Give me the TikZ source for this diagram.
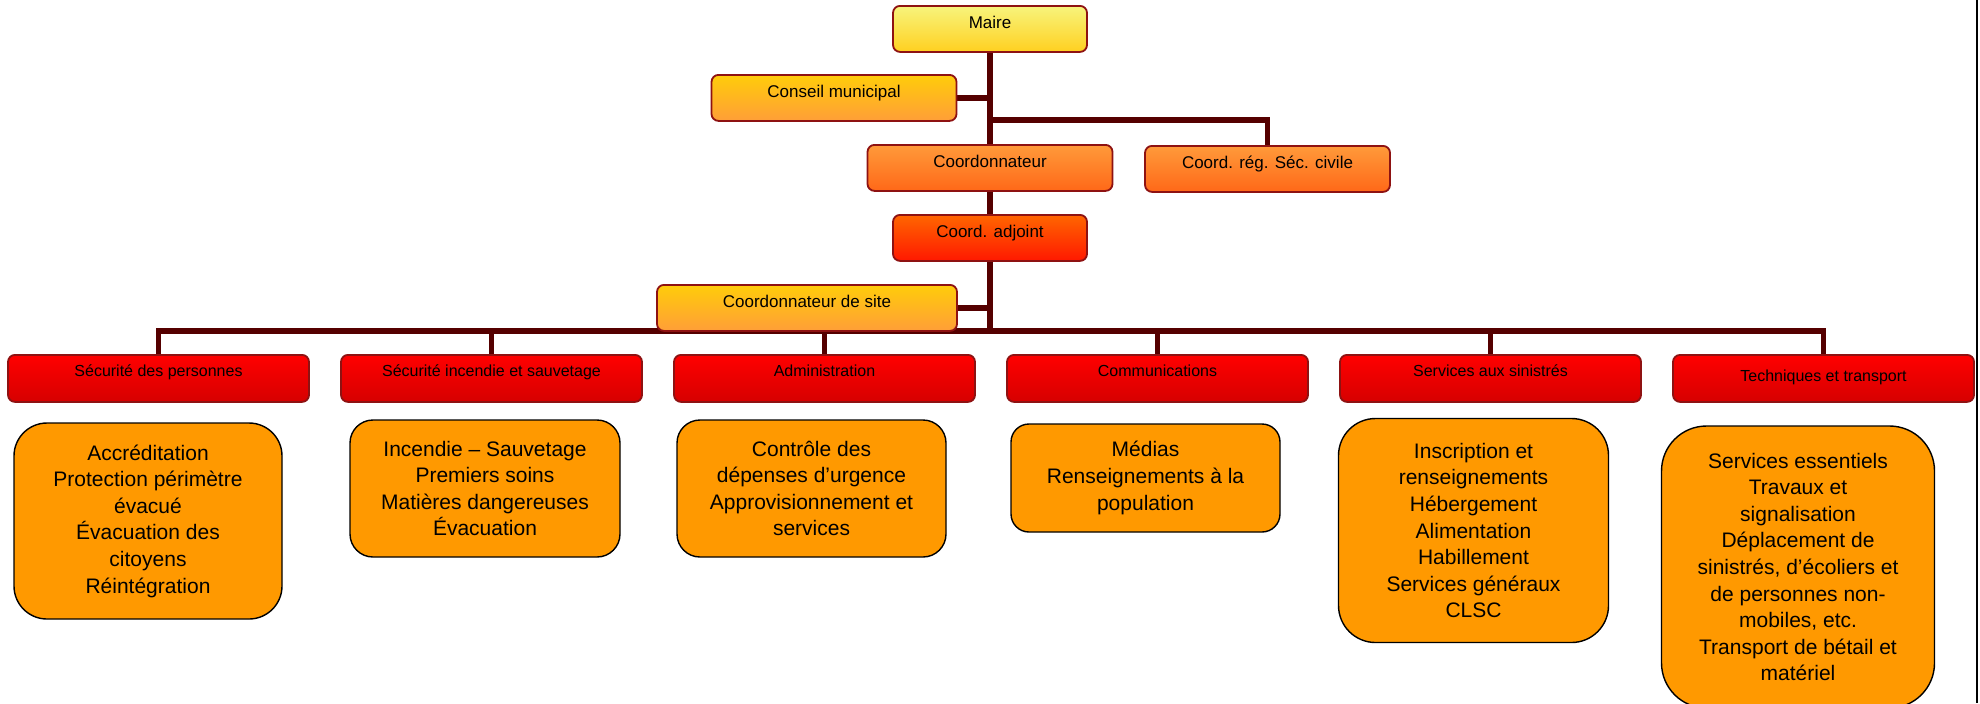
\documentclass[tikz,border=0pt]{standalone}
\usepackage{fontspec}
\setmainfont{Liberation Sans}
\pgfdeclarelayer{bg}
\pgfsetlayers{bg,main}
\definecolor{trunkc}{HTML}{550000}
\definecolor{edgec}{HTML}{8E1212}
\definecolor{orangec}{HTML}{FF9900}
\definecolor{mairetop}{HTML}{F7F47C}
\definecolor{mairebot}{HTML}{FFD020}
\definecolor{goldtop}{HTML}{FFCC0A}
\definecolor{goldbot}{HTML}{FF9E38}
\definecolor{cootop}{HTML}{FF9A3A}
\definecolor{coobot}{HTML}{FF6818}
\definecolor{adjtop}{HTML}{FF6600}
\definecolor{adjbot}{HTML}{FF1800}
\definecolor{redtop}{HTML}{FF0000}
\definecolor{redbot}{HTML}{D60000}
\begin{document}
\begin{tikzpicture}[x=0.5pt,y=-0.5pt,
  conn/.style={draw=trunkc, line width=2.8pt, line join=miter},
  topbox/.style={draw=edgec, line width=0.9pt, rounded corners=3.5pt, inner sep=0pt,
    text height=11.5pt, text depth=11.5pt, anchor=north,
    font=\fontsize{8.5}{10}\selectfont},
  yellowbox/.style={topbox, top color=mairetop, bottom color=mairebot},
  goldbox/.style={topbox, top color=goldtop, bottom color=goldbot},
  lightorangebox/.style={topbox, top color=cootop, bottom color=coobot},
  redorangebox/.style={topbox, top color=adjtop, bottom color=adjbot},
  redbox/.style={draw=edgec, line width=0.9pt, rounded corners=3.5pt, inner sep=0pt,
    minimum width=150.5pt, text height=11pt, text depth=12.5pt, anchor=north,
    top color=redtop, bottom color=redbot,
    font=\fontsize{8}{10}\selectfont},
  itembox/.style={draw=black, line width=0.7pt, fill=orangec, inner sep=0pt,
    align=center, font=\fontsize{10.5}{13.3}\selectfont}
]
\useasboundingbox (0,0) rectangle (1980,703);
\clip (0,0) rectangle (1980,703);

% top hierarchy
\node[yellowbox, minimum width=97pt] (maire) at (990,5) {Maire};
\node[goldbox, minimum width=122.5pt] (conseil) at (834,74) {Conseil municipal};
\node[lightorangebox, minimum width=122.5pt] (coord) at (990,144) {Coordonnateur};
\node[lightorangebox, minimum width=122.5pt] (creg) at (1267.5,145) {Coord. rég. Séc. civile};
\node[redorangebox, minimum width=97pt] (adj) at (990,214) {Coord. adjoint};
\node[goldbox, minimum width=150pt] (site) at (807,284) {Coordonnateur de site};

% red service boxes
\node[redbox] (s1) at (158.5,354) {Sécurité des personnes};
\node[redbox] (s2) at (491.5,354) {Sécurité incendie et sauvetage};
\node[redbox] (s3) at (824.5,354) {Administration};
\node[redbox] (s4) at (1157.5,354) {Communications};
\node[redbox] (s5) at (1490.5,354) {Services aux sinistrés};
\node[redbox, text height=13.5pt, text depth=10pt] (s6) at (1823.5,354) {Techniques et transport};

% item boxes
\node[itembox, minimum width=134pt, minimum height=98pt, rounded corners=16.5pt] (b1) at (148,521)
  {Accréditation\\Protection périmètre\\évacué\\Évacuation des\\citoyens\\Réintégration};
\node[itembox, minimum width=135pt, minimum height=68.5pt, rounded corners=11.5pt] (b2) at (485,488.5)
  {Incendie – Sauvetage\\Premiers soins\\Matières dangereuses\\Évacuation};
\node[itembox, minimum width=134.5pt, minimum height=68.5pt, rounded corners=11.5pt] (b3) at (811.5,488.5)
  {Contrôle des\\dépenses d’urgence\\Approvisionnement et\\services};
\node[itembox, minimum width=134.5pt, minimum height=54pt, rounded corners=9pt] (b4) at (1145.5,478)
  {Médias\\Renseignements à la\\population};
\node[itembox, minimum width=135pt, minimum height=112pt, rounded corners=18.5pt] (b5) at (1473.5,530.5)
  {Inscription et\\renseignements\\Hébergement\\Alimentation\\Habillement\\Services généraux\\CLSC};
\node[itembox, minimum width=136.5pt, minimum height=141pt, rounded corners=22.5pt] (b6) at (1798,567)
  {Services essentiels\\Travaux et\\signalisation\\Déplacement de\\sinistrés, d’écoliers et\\de personnes non-\\mobiles, etc.\\Transport de bétail et\\matériel};

% connectors
\coordinate (hub) at (990,331);
\coordinate (br) at (990,120);
\begin{pgfonlayer}{bg}
\fill[white] (0,0) rectangle (1980,703);
\draw[conn] (maire.south) -- (hub);
\draw[conn] (conseil.east) -- (conseil.east -| maire.south);
\draw[conn] (br) -| (creg.north);
\draw[conn] (site.east) -- (site.east -| hub);
\draw[conn] (s1.north) -- (s1.north |- hub) -- (s6.north |- hub) -- (s6.north);
\foreach \i in {2,3,4,5} { \draw[conn] (s\i.north) -- (s\i.north |- hub); }
\end{pgfonlayer}

% page edge line
\draw[black, line width=1.1pt] (1977,0) -- (1977,703);
\end{tikzpicture}
\end{document}
